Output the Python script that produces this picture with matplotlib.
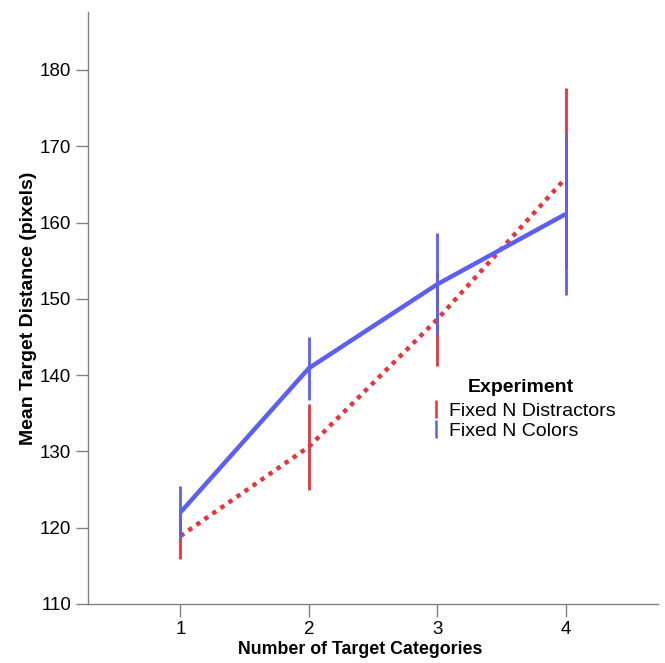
import matplotlib
matplotlib.use('Agg')
import matplotlib.pyplot as plt
from matplotlib.lines import Line2D

plt.rcParams['font.family'] = ['Liberation Sans', 'DejaVu Sans']

# number of target categories
n_categories = [1, 2, 3, 4]

# Fixed N Distractors
distractors_mean = [118.9, 130.6, 147.3, 165.8]
distractors_err = [3.0, 5.6, 6.1, 11.8]

# Fixed N Colors
colors_mean = [122.0, 140.9, 151.9, 161.1]
colors_err = [3.5, 4.1, 6.7, 10.6]

red = '#e8343a'
blue = '#5b5ff2'
axis_col = '#808080'

fig = plt.figure(figsize=(6.65, 6.63), dpi=100)
ax = fig.add_axes([0.1323, 0.089, 0.8572, 0.893])

# error bars first, red under blue
lo = [m - e for m, e in zip(distractors_mean, distractors_err)]
hi = [m + e for m, e in zip(distractors_mean, distractors_err)]
ax.vlines(n_categories, lo, hi, color=red, linewidth=2, zorder=2)
ax.plot(n_categories, distractors_mean, color=red, linewidth=3.2,
        linestyle=(0, (1, 1.2)), dash_capstyle='butt', zorder=3)

lo = [m - e for m, e in zip(colors_mean, colors_err)]
hi = [m + e for m, e in zip(colors_mean, colors_err)]
ax.vlines(n_categories, lo, hi, color=blue, linewidth=2, zorder=4)
ax.plot(n_categories, colors_mean, color=blue, linewidth=3.2,
        solid_capstyle='butt', zorder=5)

ax.set_xlim(0.28, 4.72)
ax.set_ylim(110, 187.6)
ax.set_xticks(n_categories)
ax.set_yticks(range(110, 181, 10))

for s in ['top', 'right']:
    ax.spines[s].set_visible(False)
for s in ['left', 'bottom']:
    ax.spines[s].set_color(axis_col)
    ax.spines[s].set_linewidth(1)
ax.tick_params(direction='out', length=9, width=1, color=axis_col,
               labelsize=13.5, pad=3)

ax.set_xlabel('Number of Target Categories', fontsize=12.8,
              fontweight='bold')
ax.xaxis.set_label_coords(0.477, -0.062)
ax.set_ylabel('Mean Target Distance (pixels)', fontsize=14,
              fontweight='bold', labelpad=2)

handles = [Line2D([], [], color=red, marker='|', linestyle='none',
                  markersize=13, markeredgewidth=1.8),
           Line2D([], [], color=blue, marker='|', linestyle='none',
                  markersize=13, markeredgewidth=1.8)]
leg = ax.legend(handles, ['Fixed N Distractors', 'Fixed N Colors'],
                frameon=False, fontsize=14,
                loc='upper left', bbox_to_anchor=(0.628, 0.4133),
                bbox_transform=fig.transFigure,
                handlelength=0.5, handletextpad=0.4, labelspacing=0.1,
                borderpad=0.2)
fig.text(521 / 665, 1 - 388 / 663, 'Experiment', ha='center', va='center',
         fontsize=14, fontweight='bold')

fig.savefig('out.png', dpi=100)
